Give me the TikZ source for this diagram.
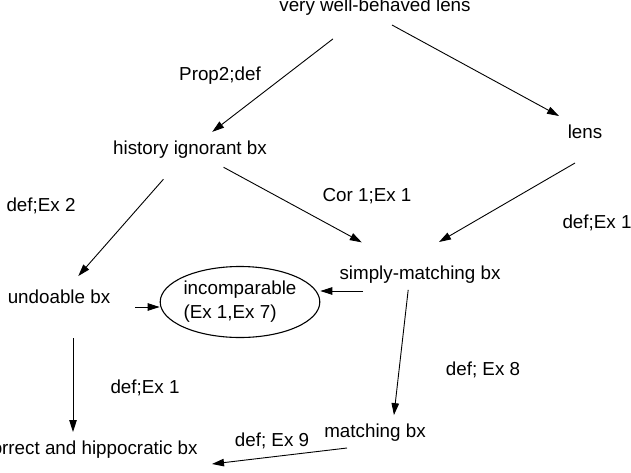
\documentclass[tikz,border=0pt]{standalone}
\usepackage{fontspec}
\setmainfont{Liberation Sans}
\usetikzlibrary{arrows.meta,shapes.geometric}

\begin{document}
\begin{tikzpicture}[x=1pt,y=-1pt,
  lbl/.style={font=\fontsize{18.8}{22}\selectfont,inner sep=0pt,text height=14pt,text depth=4pt},
  oval/.style={draw,ellipse,line width=1.1pt,inner sep=0pt,minimum width=153pt,minimum height=71pt,align=left,font=\fontsize{18.8}{24}\selectfont},
  arr/.style={-{Triangle[length=12pt,width=7.5pt]},line width=0.9pt}]
  \useasboundingbox (0,0) rectangle (631,472);
  % properties
  \node[lbl] (vwb) at (375,6.5) {very well-behaved lens};
  \node[lbl] (hib) at (190,149) {history ignorant bx};
  \node[lbl] (lens) at (585,133) {lens};
  \node[lbl] (smb) at (420,274) {simply-matching bx};
  \node[lbl] (ubx) at (59,298) {undoable bx};
  \node[oval] (incomp) at (240,302) {incomparable\\(Ex 1,Ex 7)};
  \node[lbl] (mbx) at (375,432) {matching bx};
  \node[lbl] (chb) at (90,449) {correct and hippocratic bx};
  % justifications
  \node[lbl] (lprop) at (220,75) {Prop2;def};
  \node[lbl] (lex2) at (41,206) {def;Ex 2};
  \node[lbl] (lcor) at (367,196) {Cor 1;Ex 1};
  \node[lbl] (lex1r) at (597,223) {def;Ex 1};
  \node[lbl] (lex1m) at (145,388) {def;Ex 1};
  \node[lbl] (lex8) at (483,370) {def; Ex 8};
  \node[lbl] (lex9) at (272,441) {def; Ex 9};
  \coordinate (tail) at (135,307);
  % implications
  \draw[arr,shorten <=38pt,shorten >=13pt] (vwb) -- (hib);
  \draw[arr] ([shift={(17,18.5)}]vwb.center) -- ([shift={(-26,-17)}]lens.center);
  \draw[arr,shorten <=28pt,shorten >=17pt] (hib) -- (ubx);
  \draw[arr,shorten <=19pt,shorten >=47pt] (hib) -- (smb);
  \draw[arr] ([shift={(-10,30)}]lens.center) -- ([shift={(19,-32)}]smb.center);
  \draw[arr,shorten <=16pt,shorten >=17pt] ([xshift=-10pt]smb.center) -- ([xshift=17pt]mbx.center);
  \draw[arr,shorten <=40pt,shorten >=17pt] ([xshift=14pt]ubx.center) -- ([xshift=-17pt]chb.center);
  \draw[arr] ([shift={(-28,16)}]mbx.center) -- ([shift={(122,15)}]chb.center);
  \draw[arr] (tail) -- (tail -| incomp.west);
  \draw[arr] ([shift={(-57,17)}]smb.center) -- ([yshift=11pt]incomp.east);
\end{tikzpicture}
\end{document}
